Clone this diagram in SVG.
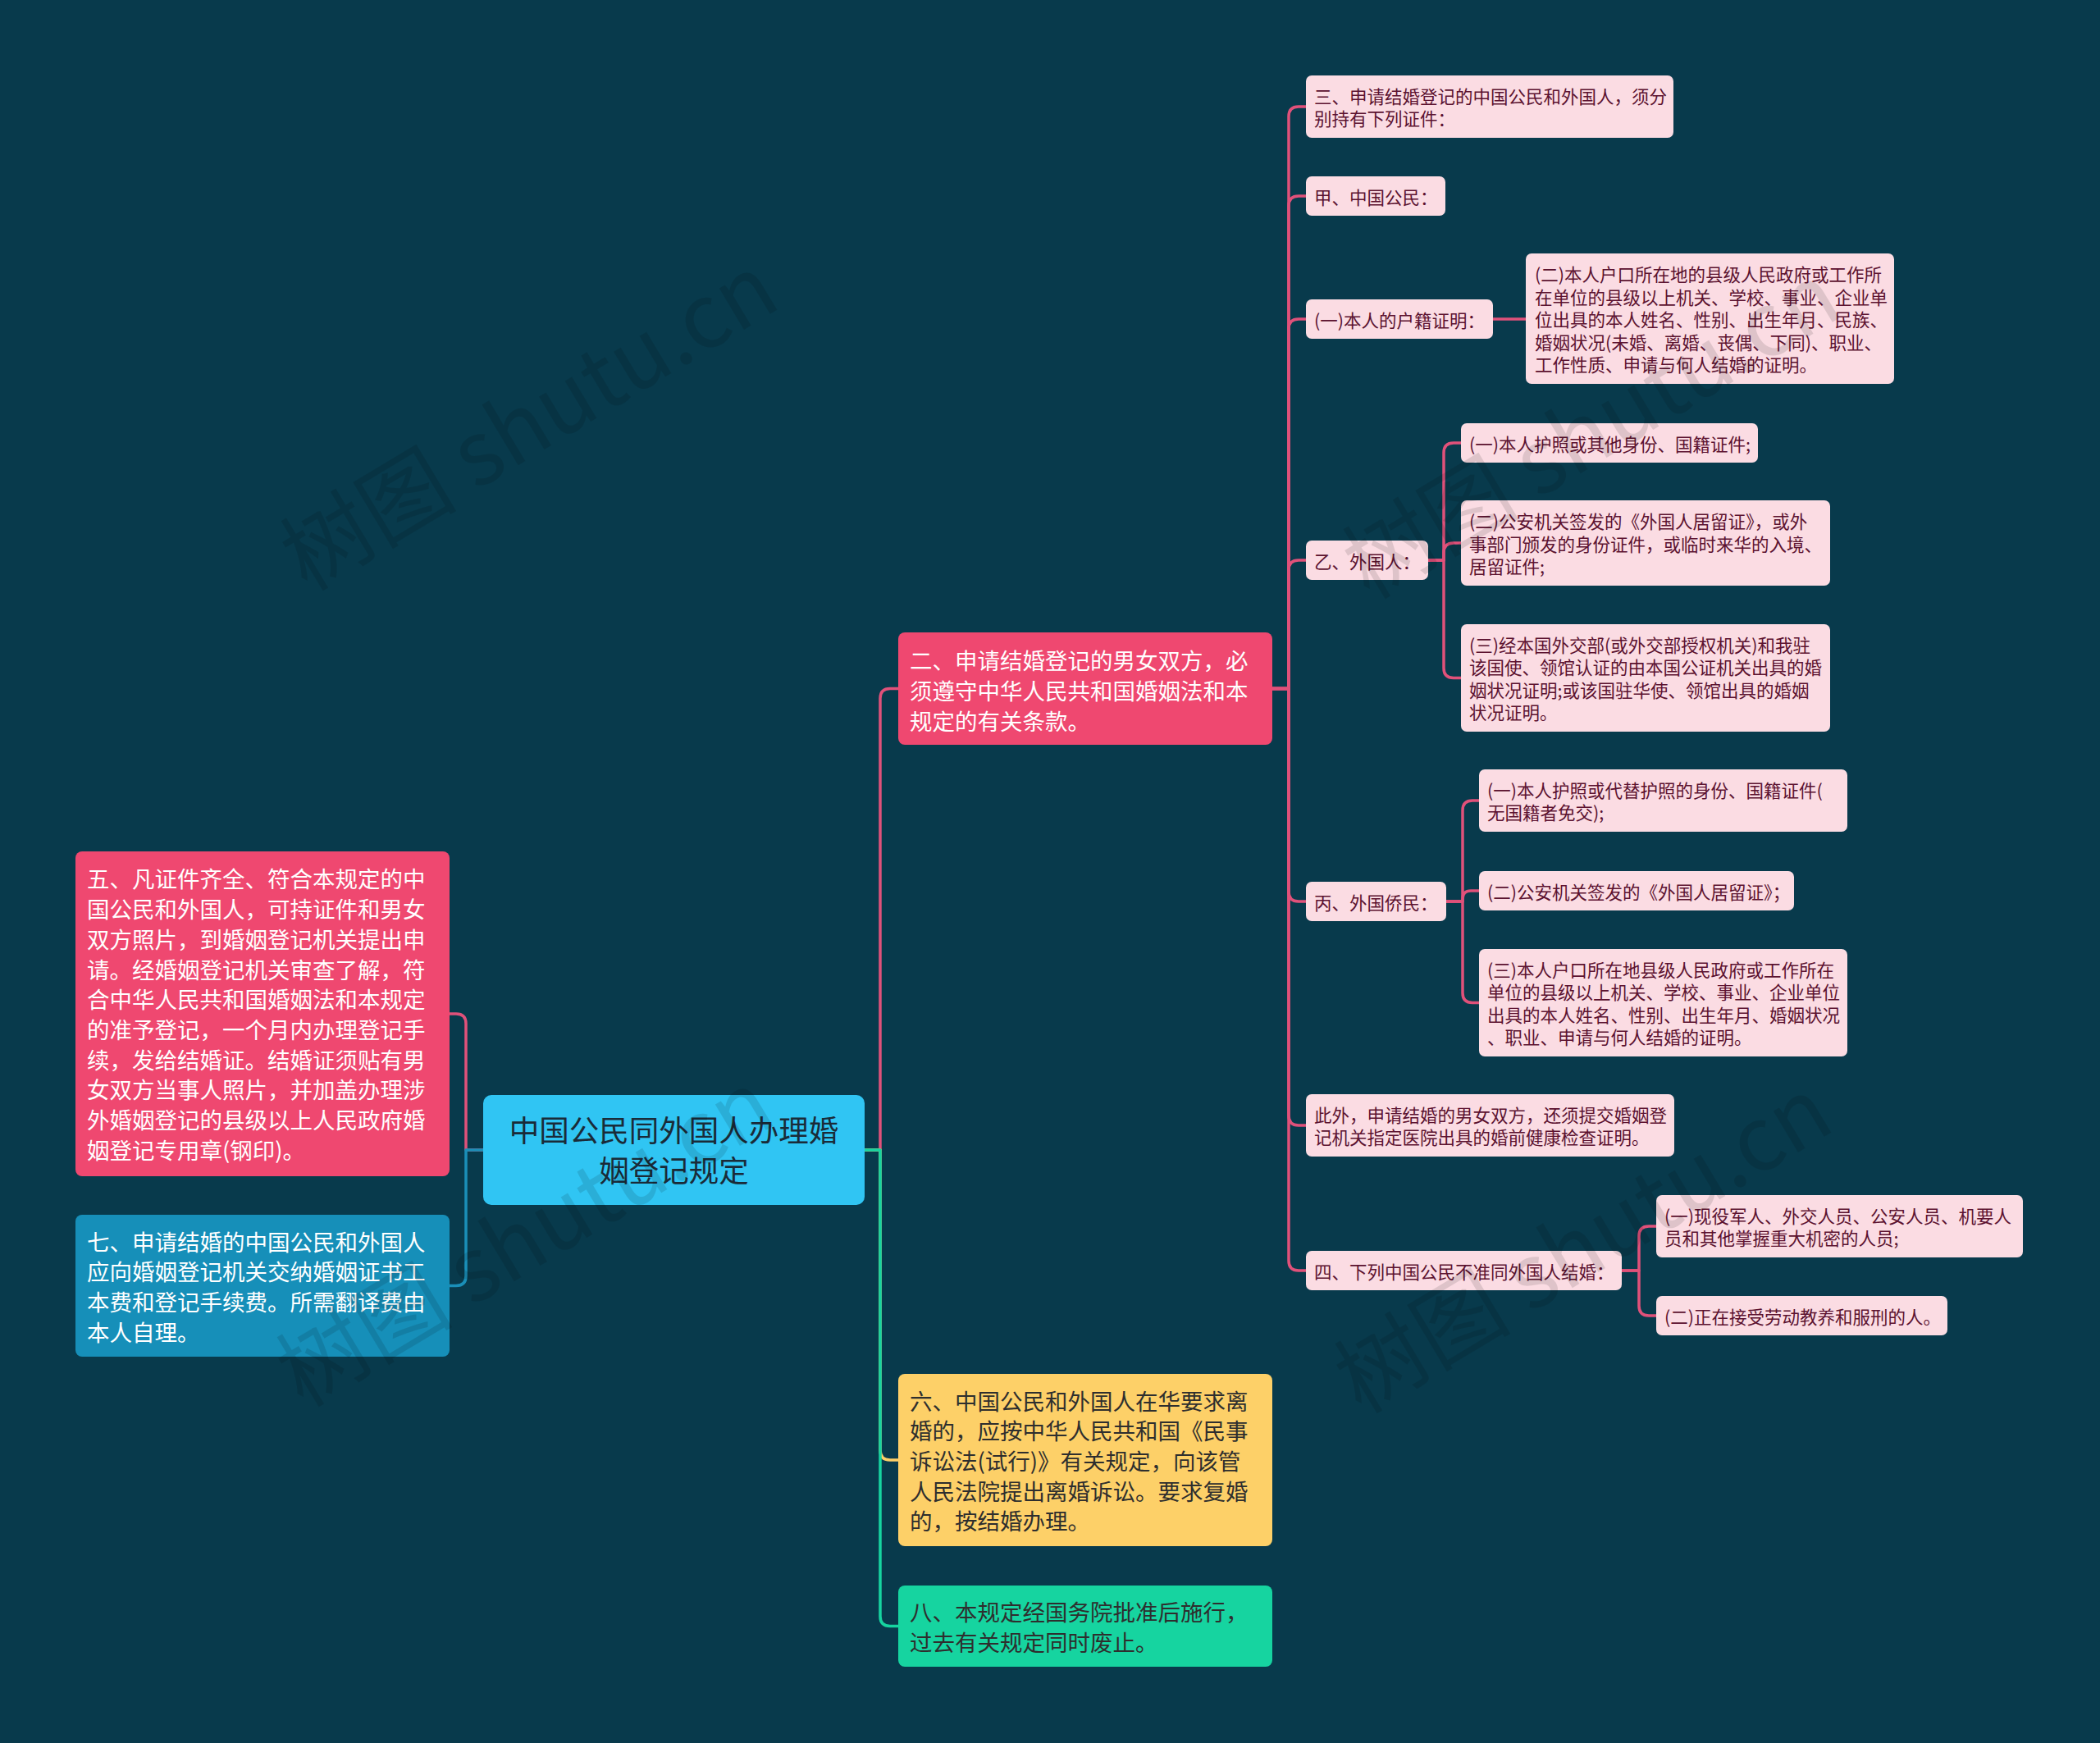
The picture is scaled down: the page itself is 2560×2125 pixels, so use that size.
<svg xmlns="http://www.w3.org/2000/svg" width="2560" height="2125" viewBox="0 0 2560 2125">
<style>
text{font-family:"Noto Sans CJK SC","Noto Sans",sans-serif;}
.lp{fill:#fbdce3;}
.t3{font-size:21.5px;fill:#5c1230;}
.t1w{font-size:27.5px;fill:#ffffff;}
.t1d{font-size:27.5px;fill:#2e2e2e;}
.tr{font-size:36.5px;fill:#1a2b38;text-anchor:middle;}
.c{fill:none;stroke-width:3.5;stroke-linejoin:round;}
.cp{stroke:#e0517a;}
.wm{font-size:108px;fill:#000;opacity:0.11;text-anchor:middle;}
</style>
<rect x="0" y="0" width="2560" height="2125" fill="#083a4c"/>

<g id="connectors">
  <path class="c cp" d="M589,1402 H568 V1248 Q568,1236 556,1236 H548"/>
  <path class="c" stroke="#1a8fb8" d="M589,1402 H568 V1555.5 Q568,1567.5 556,1567.5 H548"/>
  <path class="c cp" d="M1054,1402 H1073 V851.5 Q1073,839.5 1085,839.5 H1095"/>
  <path class="c" stroke="#fdd068" d="M1054,1402 H1073 V1768 Q1073,1780 1085,1780 H1095"/>
  <path class="c" stroke="#16d4a0" d="M1054,1402 H1073 V1970.5 Q1073,1982.5 1085,1982.5 H1095"/>
  <path class="c cp" d="M1551,839.5 H1571 V142 Q1571,130 1583,130 H1592"/>
  <path class="c cp" d="M1551,839.5 H1571 V251 Q1571,239 1583,239 H1592"/>
  <path class="c cp" d="M1551,839.5 H1571 V401 Q1571,389 1583,389 H1592"/>
  <path class="c cp" d="M1551,839.5 H1571 V695 Q1571,683 1583,683 H1592"/>
  <path class="c cp" d="M1551,839.5 H1571 V1087 Q1571,1099 1583,1099 H1592"/>
  <path class="c cp" d="M1551,839.5 H1571 V1360 Q1571,1372 1583,1372 H1592"/>
  <path class="c cp" d="M1551,839.5 H1571 V1537 Q1571,1549 1583,1549 H1592"/>
  <path class="c cp" d="M1820,389 H1860"/>
  <path class="c cp" d="M1741,683 H1760 V552 Q1760,540 1772,540 H1781"/>
  <path class="c cp" d="M1741,683 H1760 V674 Q1760,662 1772,662 H1781"/>
  <path class="c cp" d="M1741,683 H1760 V814.5 Q1760,826.5 1772,826.5 H1781"/>
  <path class="c cp" d="M1763,1099 H1783 V988 Q1783,976 1795,976 H1803"/>
  <path class="c cp" d="M1763,1099 H1783 V1096 Q1783,1086 1793,1086 H1803"/>
  <path class="c cp" d="M1763,1099 H1783 V1210.5 Q1783,1222.5 1795,1222.5 H1803"/>
  <path class="c cp" d="M1977,1549 H1998 V1507 Q1998,1495 2010,1495 H2019"/>
  <path class="c cp" d="M1977,1549 H1998 V1592 Q1998,1604 2010,1604 H2019"/>
</g>

<g id="root">
  <rect x="589" y="1335" width="465" height="134" rx="10" fill="#30c5f3"/>
  <text class="tr" x="821.5" y="1391.5">中国公民同外国人办理婚</text>
  <text class="tr" x="821.5" y="1440.5">姻登记规定</text>
</g>

<g id="n5">
  <rect x="92" y="1038" width="456" height="396" rx="8" fill="#ef4870"/>
  <text class="t1w" x="106" y="1082.4">五、凡证件齐全、符合本规定的中</text>
  <text class="t1w" x="106" y="1119.1">国公民和外国人，可持证件和男女</text>
  <text class="t1w" x="106" y="1155.8">双方照片，到婚姻登记机关提出申</text>
  <text class="t1w" x="106" y="1192.5">请。经婚姻登记机关审查了解，符</text>
  <text class="t1w" x="106" y="1229.2">合中华人民共和国婚姻法和本规定</text>
  <text class="t1w" x="106" y="1265.9">的准予登记，一个月内办理登记手</text>
  <text class="t1w" x="106" y="1302.6">续，发给结婚证。结婚证须贴有男</text>
  <text class="t1w" x="106" y="1339.3">女双方当事人照片，并加盖办理涉</text>
  <text class="t1w" x="106" y="1376">外婚姻登记的县级以上人民政府婚</text>
  <text class="t1w" x="106" y="1412.7">姻登记专用章(钢印)。</text>
</g>

<g id="n7">
  <rect x="92" y="1481" width="456" height="173" rx="8" fill="#168fb9"/>
  <text class="t1w" x="106" y="1524.5">七、申请结婚的中国公民和外国人</text>
  <text class="t1w" x="106" y="1561.2">应向婚姻登记机关交纳婚姻证书工</text>
  <text class="t1w" x="106" y="1597.9">本费和登记手续费。所需翻译费由</text>
  <text class="t1w" x="106" y="1634.6">本人自理。</text>
</g>

<g id="n2">
  <rect x="1095" y="771" width="456" height="137" rx="8" fill="#ef4870"/>
  <text class="t1w" x="1109" y="816.3">二、申请结婚登记的男女双方，必</text>
  <text class="t1w" x="1109" y="853">须遵守中华人民共和国婚姻法和本</text>
  <text class="t1w" x="1109" y="889.7">规定的有关条款。</text>
</g>

<g id="n6">
  <rect x="1095" y="1675" width="456" height="210" rx="8" fill="#fdd068"/>
  <text class="t1d" x="1109" y="1718.6">六、中国公民和外国人在华要求离</text>
  <text class="t1d" x="1109" y="1755.3">婚的，应按中华人民共和国《民事</text>
  <text class="t1d" x="1109" y="1792">诉讼法(试行)》有关规定，向该管</text>
  <text class="t1d" x="1109" y="1828.7">人民法院提出离婚诉讼。要求复婚</text>
  <text class="t1d" x="1109" y="1865.4">的，按结婚办理。</text>
</g>

<g id="n8">
  <rect x="1095" y="1933" width="456" height="99" rx="8" fill="#16d4a0"/>
  <text class="t1d" x="1109" y="1976.2">八、本规定经国务院批准后施行，</text>
  <text class="t1d" x="1109" y="2012.9">过去有关规定同时废止。</text>
</g>

<g id="n3">
  <rect class="lp" x="1592" y="92" width="448" height="76" rx="7"/>
  <text class="t3" x="1602" y="125.7">三、申请结婚登记的中国公民和外国人，须分</text>
  <text class="t3" x="1602" y="153.2">别持有下列证件：</text>
</g>

<g id="nJia">
  <rect class="lp" x="1592" y="215" width="170" height="48" rx="7"/>
  <text class="t3" x="1602" y="248.5">甲、中国公民：</text>
</g>

<g id="nHuji">
  <rect class="lp" x="1592" y="365" width="228" height="48" rx="7"/>
  <text class="t3" x="1602" y="398.5">(一)本人的户籍证明：</text>
</g>

<g id="nHukou">
  <rect class="lp" x="1860" y="309" width="449" height="159" rx="7"/>
  <text class="t3" x="1871" y="343">(二)本人户口所在地的县级人民政府或工作所</text>
  <text class="t3" x="1871" y="370.5">在单位的县级以上机关、学校、事业、企业单</text>
  <text class="t3" x="1871" y="398">位出具的本人姓名、性别、出生年月、民族、</text>
  <text class="t3" x="1871" y="425.5">婚姻状况(未婚、离婚、丧偶、下同)、职业、</text>
  <text class="t3" x="1871" y="453">工作性质、申请与何人结婚的证明。</text>
</g>

<g id="nYi">
  <rect class="lp" x="1592" y="659" width="149" height="48" rx="7"/>
  <text class="t3" x="1602" y="692.5">乙、外国人：</text>
</g>

<g id="nYi1">
  <rect class="lp" x="1781" y="516" width="362" height="48" rx="7"/>
  <text class="t3" x="1791" y="549.5">(一)本人护照或其他身份、国籍证件;</text>
</g>

<g id="nYi2">
  <rect class="lp" x="1781" y="610" width="450" height="104" rx="7"/>
  <text class="t3" x="1791" y="644">(二)公安机关签发的《外国人居留证》，或外</text>
  <text class="t3" x="1791" y="671.5">事部门颁发的身份证件，或临时来华的入境、</text>
  <text class="t3" x="1791" y="699">居留证件;</text>
</g>

<g id="nYi3">
  <rect class="lp" x="1781" y="761" width="450" height="131" rx="7"/>
  <text class="t3" x="1791" y="794.7">(三)经本国外交部(或外交部授权机关)和我驻</text>
  <text class="t3" x="1791" y="822.2">该国使、领馆认证的由本国公证机关出具的婚</text>
  <text class="t3" x="1791" y="849.7">姻状况证明;或该国驻华使、领馆出具的婚姻</text>
  <text class="t3" x="1791" y="877.2">状况证明。</text>
</g>

<g id="nBing">
  <rect class="lp" x="1592" y="1075" width="171" height="48" rx="7"/>
  <text class="t3" x="1602" y="1108.5">丙、外国侨民：</text>
</g>

<g id="nBing1">
  <rect class="lp" x="1803" y="938" width="449" height="76" rx="7"/>
  <text class="t3" x="1813" y="971.7">(一)本人护照或代替护照的身份、国籍证件(</text>
  <text class="t3" x="1813" y="999.2">无国籍者免交);</text>
</g>

<g id="nBing2">
  <rect class="lp" x="1803" y="1062" width="384" height="48" rx="7"/>
  <text class="t3" x="1813" y="1095.5">(二)公安机关签发的《外国人居留证》；</text>
</g>

<g id="nBing3">
  <rect class="lp" x="1803" y="1157" width="449" height="131" rx="7"/>
  <text class="t3" x="1813" y="1190.7">(三)本人户口所在地县级人民政府或工作所在</text>
  <text class="t3" x="1813" y="1218.2">单位的县级以上机关、学校、事业、企业单位</text>
  <text class="t3" x="1813" y="1245.7">出具的本人姓名、性别、出生年月、婚姻状况</text>
  <text class="t3" x="1813" y="1273.2">、职业、申请与何人结婚的证明。</text>
</g>

<g id="nCiwai">
  <rect class="lp" x="1592" y="1334" width="449" height="76" rx="7"/>
  <text class="t3" x="1602" y="1367.7">此外，申请结婚的男女双方，还须提交婚姻登</text>
  <text class="t3" x="1602" y="1395.2">记机关指定医院出具的婚前健康检查证明。</text>
</g>

<g id="nSi">
  <rect class="lp" x="1592" y="1525" width="385" height="48" rx="7"/>
  <text class="t3" x="1602" y="1558.5">四、下列中国公民不准同外国人结婚：</text>
</g>

<g id="nSi1">
  <rect class="lp" x="2019" y="1457" width="447" height="76" rx="7"/>
  <text class="t3" x="2029" y="1490.7">(一)现役军人、外交人员、公安人员、机要人</text>
  <text class="t3" x="2029" y="1518.2">员和其他掌握重大机密的人员;</text>
</g>

<g id="nSi2">
  <rect class="lp" x="2019" y="1580" width="355" height="48" rx="7"/>
  <text class="t3" x="2029" y="1613.5">(二)正在接受劳动教养和服刑的人。</text>
</g>

<g id="watermarks">
  <text class="wm" transform="translate(645,515) rotate(-31)" y="38">树图 shutu.cn</text>
  <text class="wm" transform="translate(1940,525) rotate(-31)" y="38">树图 shutu.cn</text>
  <text class="wm" transform="translate(640,1510) rotate(-31)" y="38">树图 shutu.cn</text>
  <text class="wm" transform="translate(1930,1518) rotate(-31)" y="38">树图 shutu.cn</text>
</g>
</svg>
